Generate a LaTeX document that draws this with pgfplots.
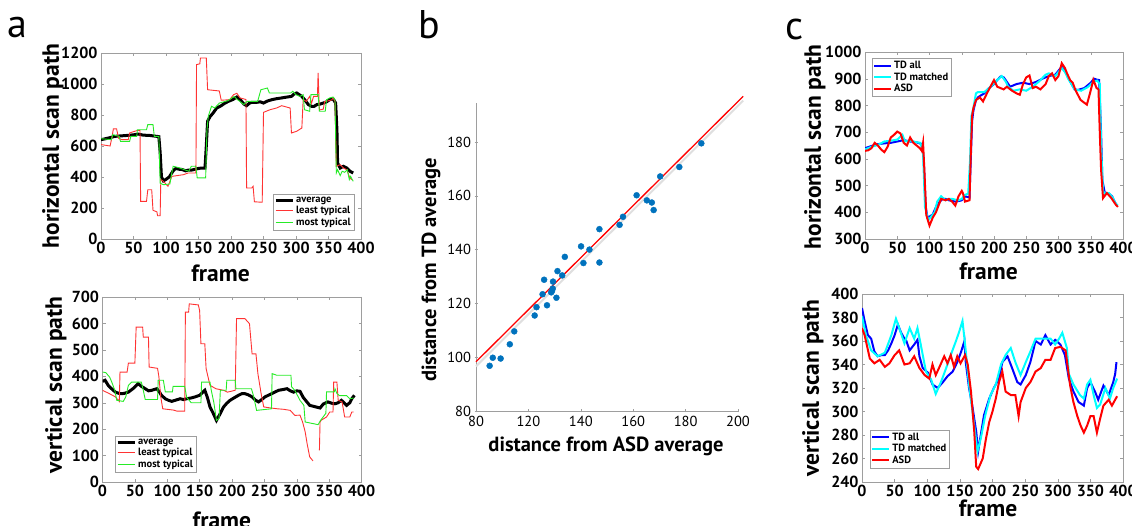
\documentclass[border=0pt]{standalone}
\usepackage{fontspec}
\setmainfont{PT Sans}
\usepackage{pgfplots}
\pgfplotsset{compat=1.18}

\definecolor{lred}{rgb}{1,0.2,0.2}
\definecolor{lgreen}{rgb}{0.15,0.92,0.15}
\definecolor{dotblue}{rgb}{0,0.447,0.741}
\definecolor{framegray}{gray}{0.62}
\definecolor{tdblue}{rgb}{0,0,1}
\definecolor{tdcyan}{rgb}{0,1,1}
\definecolor{asdred}{rgb}{1,0,0}

\pgfplotsset{
  common/.style={
    scale only axis, anchor=south west,
    tick align=inside, major tick length=3pt,
    axis line style={framegray}, every tick/.style={framegray},
    ticklabel style={font=\fontsize{16}{16}\selectfont\bfseries},
    /pgf/number format/assume math mode=true,
    /pgf/number format/set thousands separator={},
    label style={font=\fontsize{23.5}{24}\selectfont\bfseries, inner sep=0pt},
    legend style={font=\fontsize{10.5}{11}\selectfont\bfseries, draw=framegray,
      inner sep=1pt, row sep=-1.5pt},
    legend cell align=left,
  },
  scanpath/.style={common,
    xmin=0, xmax=400, xtick={0,50,...,400},
    xlabel=frame,
  },
}

\begin{document}
\begin{tikzpicture}
\useasboundingbox (0pt,0pt) rectangle (1132pt,526pt);

% panel letters
\node[font=\fontsize{40}{40}\selectfont] at (17pt,498pt) {a};
\node[font=\fontsize{40}{40}\selectfont] at (429pt,501pt) {b};
\node[font=\fontsize{40}{40}\selectfont] at (795pt,496pt) {c};

% ---------------- a, top
\begin{axis}[scanpath, at={(101pt,287pt)}, width=260pt, height=186pt,
  ymin=0, ymax=1200, ytick={0,200,...,1200},
  ylabel={horizontal scan path},
  ylabel style={at={(axis description cs:-0.185,0.5)}, anchor=center},
  xlabel style={at={(axis description cs:0.46,-0.14)}, anchor=north},
  legend style={at={(0.973,0.048)}, anchor=south east},
]
\addplot[black, line width=3pt] coordinates {
(0,641) (5,645) (10,650) (15,655) (21,662) (30,665) (40,668) (50,672) (57,677)
(65,670) (75,668) (86,662) (89,660) (91,560) (93,400) (96,375) (100,385) (105,400)
(111,440) (115,455) (120,450) (125,448) (130,440) (135,445) (140,445) (145,450)
(150,455) (155,458) (160,458) (162,600) (164,760) (168,791) (172,810) (178,845)
(185,860) (190,875) (196,888) (203,900) (209,916) (215,895) (220,870) (224,860)
(228,875) (232,882) (240,882) (245,885) (250,877) (256,890) (263,899) (270,905)
(278,910) (285,915) (293,920) (297,935) (301,942) (305,931) (309,920) (314,895)
(319,867) (324,856) (328,856) (332,867) (337,870) (342,877) (347,885) (352,899)
(357,904) (361,877) (363,700) (364,490) (368,458) (373,469) (378,458) (383,437) (388,426)
};
\addplot[lred, line width=0.9pt] coordinates {
(0,609) (14,600) (17,660) (19,710) (24,710) (27,650) (32,641) (42,641) (44,684)
(52,695) (57,701) (60,701) (61,243) (70,243) (72,318) (78,318) (80,185) (86,175)
(87,150) (91,150) (92,383) (96,372) (103,340) (109,404) (127,415) (134,426) (146,426)
(147,1125) (152,1130) (153,1168) (162,1168) (164,963) (182,955) (185,895) (198,899)
(204,931) (209,940) (214,910) (223,900) (224,329) (232,329) (234,340) (236,240)
(248,237) (250,817) (260,834) (270,845) (278,860) (291,845) (293,684) (301,695)
(309,716) (311,899) (316,888) (321,920) (324,876) (327,920) (333,920) (334,1071)
(336,832) (342,838) (344,886) (355,897) (357,910) (360,888) (362,469) (368,480)
(373,458) (378,447) (383,393) (386,382)
};
\addplot[lgreen, line width=0.9pt] coordinates {
(0,647) (16,641) (18,673) (28,662) (30,630) (44,630) (46,662) (55,662) (56,705)
(70,705) (72,738) (80,738) (82,662) (89,662) (91,360) (96,350) (106,355) (108,404)
(111,469) (120,460) (125,452) (135,437) (139,469) (146,469) (148,394) (161,394)
(163,700) (165,791) (170,856) (175,845) (182,877) (195,892) (205,920) (210,899)
(220,867) (225,888) (241,888) (246,963) (256,974) (259,942) (292,942) (295,953)
(300,931) (306,920) (311,931) (313,834) (321,824) (323,931) (334,931) (336,824)
(345,824) (347,899) (352,910) (357,916) (360,899) (362,426) (364,447) (368,409)
(371,437) (375,430) (379,447) (382,383) (384,404) (388,372)
};
\legend{average, least typical, most typical}
\end{axis}

% ---------------- a, bottom
\begin{axis}[scanpath, at={(102.5pt,44pt)}, width=259pt, height=185pt,
  ymin=0, ymax=700, ytick={0,100,...,700},
  ylabel={vertical scan path},
  ylabel style={at={(axis description cs:-0.18,0.524)}, anchor=center},
  xlabel style={at={(axis description cs:0.461,-0.16)}, anchor=north},
  legend style={at={(0.048,0.054)}, anchor=south west},
  unbounded coords=jump,
]
\addplot[black, line width=3pt] coordinates {
(0,381) (4,385) (9,365) (14,353) (20,340) (27,334) (33,335) (40,340) (48,355)
(55,372) (60,362) (66,353) (71,345) (76,347) (84,353) (88,340) (91,328) (97,315)
(102,309) (107,305) (112,309) (120,315) (125,312) (130,315) (137,318) (143,322)
(150,328) (155,340) (158,347) (162,320) (166,284) (171,260) (176,233) (181,255)
(187,284) (192,298) (197,309) (203,318) (210,328) (215,334) (220,334) (225,330)
(231,322) (236,310) (241,303) (246,312) (251,322) (256,328) (261,334) (266,340)
(272,347) (279,350) (285,353) (290,345) (295,340) (300,345) (305,343) (310,320)
(315,305) (320,290) (328,285) (336,280) (341,295) (348,303) (354,298) (359,296)
(364,300) (369,309) (373,300) (377,290) (382,300) (385,315) (389,328)
};
\addplot[lred, line width=0.9pt] coordinates {
(0,347) (10,335) (20,322) (26,305) (27,416) (38,416) (40,450) (50,450) (52,586)
(62,586) (63,548) (71,548) (72,435) (85,430) (87,400) (90,322) (93,277) (110,272)
(115,268) (127,268) (128,643) (133,643) (134,674) (148,670) (150,649) (152,523)
(158,523) (160,429) (166,366) (175,353) (187,347) (193,340) (205,347) (207,618)
(220,618) (227,599) (231,485) (237,485) (240,410) (245,334) (249,284) (260,280)
(270,277) (280,275) (290,271) (297,252) (305,253) (309,227) (313,190) (316,145)
(320,95) (325,80) (330,nan) (335,120) (336,227) (338,234) (346,246) (351,265)
(356,265) (357,378) (362,378) (364,309) (370,303) (374,246) (382,246) (385,265) (388,265)
};
\addplot[lgreen, line width=0.9pt] coordinates {
(0,416) (5,414) (11,397) (14,380) (19,347) (22,309) (32,305) (36,322) (40,366)
(45,378) (60,378) (63,347) (66,312) (85,312) (86,385) (94,385) (97,341) (108,341)
(109,362) (127,362) (130,320) (137,300) (152,300) (153,378) (166,378) (168,347)
(172,300) (176,233) (180,240) (182,347) (191,347) (192,385) (205,385) (206,353)
(230,353) (233,328) (238,271) (261,277) (262,410) (269,404) (291,404) (292,360)
(297,347) (305,309) (311,290) (313,227) (333,217) (337,234) (345,260) (346,341)
(358,341) (359,353) (362,335) (366,327) (377,327) (382,315) (388,318)
};
\legend{average, least typical, most typical}
\end{axis}

% ---------------- b
\begin{axis}[common, at={(476pt,115pt)}, width=262pt, height=308pt,
  axis lines=left, axis line style={framegray, -}, tick pos=left,
  xmin=100, xmax=200, ymin=80, ymax=194.5,
  xtick={100,120,...,200}, xticklabels={80,120,140,160,180,200},
  ytick={80,100,...,180},
  ticklabel style={font=\fontsize{14.5}{14.5}\selectfont},
  label style={font=\fontsize{20.5}{21}\selectfont\bfseries},
  xlabel={distance from ASD average},
  ylabel={distance from TD average},
  ylabel style={at={(axis description cs:-0.172,0.458)}, anchor=center},
  xlabel style={at={(axis description cs:0.496,-0.084)}, anchor=north},
  clip=false,
]
\addplot[gray!25, line width=2pt] coordinates {(100,96.6) (202,195.4)};
\addplot[asdred, line width=1.3pt] coordinates {(100,98.3) (202,197)};
\addplot[only marks, mark=*, mark size=3pt, dotblue] coordinates {
(105.2,96.8) (106.4,99.8) (109.4,99.5) (112.9,104.8) (114.6,109.6) (122.4,115.5)
(123.1,118.6) (125.4,123.4) (126.0,128.8) (127.1,119.3) (128.7,124.1) (129.0,124.6)
(129.3,125.5) (129.4,128.1) (130.7,122.1) (131.1,132.0) (132.9,130.4) (133.9,137.3)
(140.1,141.2) (141.0,135.0) (143.3,140.0) (147.1,147.6) (147.1,135.2) (154.8,149.2)
(156.1,152.2) (161.3,160.2) (165.2,158.3) (167.1,157.5) (167.8,154.7) (170.3,167.2)
(177.6,170.7) (186.0,179.5)
};
\end{axis}

% ---------------- c, top
\begin{axis}[scanpath, at={(865pt,287pt)}, width=258pt, height=187pt,
  ymin=300, ymax=1000, ytick={300,400,...,1000},
  ylabel={horizontal scan path},
  ylabel style={at={(axis description cs:-0.194,0.492)}, anchor=center},
  xlabel style={at={(axis description cs:0.479,-0.128)}, anchor=north},
  legend style={at={(0.027,0.968)}, anchor=north west},
]
\addplot[tdblue, line width=2pt] coordinates {
(0,640) (10,648) (20,655) (30,658) (40,660) (50,665) (60,670) (70,665) (80,662)
(88,655) (91,600) (94,420) (97,380) (101,385) (105,392) (112,430) (120,450) (125,450)
(130,445) (140,440) (147,443) (150,445) (155,460) (162,455) (164,600) (166,740)
(168,780) (172,820) (175,830) (180,838) (185,845) (190,860) (195,870) (200,880)
(205,895) (210,908) (215,905) (218,895) (225,870) (230,875) (235,880) (245,885)
(255,880) (265,888) (275,900) (285,910) (295,915) (300,930) (305,945) (312,920)
(318,890) (325,860) (330,858) (340,865) (345,875) (350,885) (355,900) (360,896)
(363,895) (366,700) (368,520) (372,470) (378,470) (383,460) (388,435) (390,428)
};
\addplot[tdcyan, line width=2pt] coordinates {
(0,635) (10,645) (20,652) (30,665) (40,668) (50,672) (58,690) (62,665) (70,668)
(80,662) (86,660) (90,620) (93,420) (98,370) (103,385) (108,400) (112,440) (118,460)
(125,445) (130,450) (135,450) (145,445) (150,450) (155,465) (160,470) (163,600)
(165,760) (168,790) (172,845) (175,850) (185,850) (195,870) (205,895) (212,910)
(218,890) (222,870) (230,855) (240,860) (250,855) (260,870) (270,890) (280,915)
(285,920) (295,910) (300,925) (305,940) (310,925) (315,900) (320,880) (325,860)
(335,855) (345,868) (355,890) (360,893) (364,880) (366,650) (369,480) (372,470)
(378,472) (384,455) (388,435) (392,425)
};
\addplot[asdred, line width=2pt] coordinates {
(0,630) (5,632) (10,640) (15,660) (20,650) (25,635) (30,625) (35,645) (40,680)
(45,690) (50,702) (55,695) (60,660) (65,650) (70,680) (75,660) (80,650) (85,640)
(88,630) (90,660) (92,560) (95,390) (100,350) (105,380) (110,400) (118,450) (125,445)
(130,450) (135,440) (140,425) (145,460) (150,480) (152,470) (155,440) (162,445)
(164,620) (166,760) (168,790) (172,820) (178,830) (183,815) (190,850) (200,895)
(205,870) (215,860) (220,870) (228,855) (235,845) (240,840) (245,880) (250,905)
(255,912) (260,865) (265,870) (272,860) (280,880) (285,910) (290,920) (295,895)
(300,910) (305,958) (310,940) (313,921) (318,895) (322,885) (326,859) (330,840)
(334,821) (340,810) (344,803) (349,847) (354,896) (359,865) (362,860) (364,700)
(366,560) (369,453) (375,472) (382,453) (389,428) (392,420)
};
\legend{TD all, TD matched, ASD}
\end{axis}

% ---------------- c, bottom
\begin{axis}[scanpath, at={(862pt,44pt)}, width=261pt, height=188pt,
  ymin=240, ymax=400, ytick={240,260,...,400},
  ylabel={vertical scan path},
  ylabel style={at={(axis description cs:-0.188,0.5)}, anchor=center},
  xlabel style={at={(axis description cs:0.483,-0.096)}, anchor=north},
  legend style={at={(0.031,0.074)}, anchor=south west},
]
\addplot[tdblue, line width=2pt] coordinates {
(0,388) (4,377) (9,365) (14,362) (19,351) (24,347) (30,348) (35,348) (40,352)
(45,358) (50,365) (55,374) (60,367) (65,362) (68,360) (73,352) (80,357) (85,361)
(88,347) (93,337) (101,333) (108,323) (116,320) (124,325) (131,330) (139,334)
(146,342) (152,351) (157,360) (159,342) (164,320) (169,305) (175,283) (178,266)
(182,280) (187,297) (195,311) (202,320) (210,328) (215,342) (223,347) (230,337)
(238,325) (243,323) (251,331) (258,342) (266,360) (274,357) (281,365) (289,357)
(296,361) (304,357) (311,348) (317,328) (324,317) (332,308) (340,305) (345,320)
(350,325) (357,317) (362,310) (370,322) (378,314) (385,325) (388,332) (390,342)
};
\addplot[tdcyan, line width=2pt] coordinates {
(0,381) (6,365) (14,352) (24,347) (35,350) (45,365) (52,379) (57,371) (65,358)
(73,371) (80,362) (85,371) (90,357) (98,334) (106,327) (113,315) (121,325) (129,337)
(136,348) (144,360) (149,368) (154,377) (158,357) (164,323) (172,288) (177,266)
(182,277) (189,297) (197,314) (205,323) (213,340) (220,348) (228,354) (235,342)
(243,331) (251,342) (258,351) (266,362) (274,362) (281,362) (289,362) (296,357)
(302,362) (307,367) (314,354) (317,332) (324,323) (334,314) (340,311) (345,323)
(350,327) (355,314) (360,303) (365,306) (373,320) (380,311) (385,320) (391,328)
};
\addplot[asdred, line width=2pt] coordinates {
(0,371) (4,365) (8,355) (12,345) (19,341) (27,344) (35,338) (42,341) (50,348)
(57,352) (65,340) (73,341) (80,347) (88,337) (96,331) (103,328) (108,340) (113,331)
(118,337) (126,347) (131,341) (136,348) (141,338) (146,347) (151,341) (158,348)
(162,340) (167,317) (172,283) (175,253) (178,251) (185,260) (190,277) (195,291)
(200,300) (205,311) (210,325) (215,334) (220,317) (228,314) (235,314) (240,296)
(243,308) (251,320) (258,325) (266,334) (274,337) (281,344) (289,344) (296,354)
(304,355) (312,352) (319,322) (324,308) (330,296) (335,288) (340,282) (345,288)
(350,296) (355,296) (360,282) (365,294) (370,305) (378,310) (383,305) (391,313)
};
\legend{TD all, TD matched, ASD}
\end{axis}
\end{tikzpicture}
\end{document}
